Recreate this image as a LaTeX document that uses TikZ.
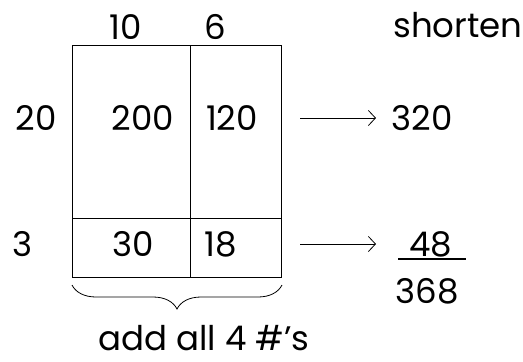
\documentclass[tikz,border=0pt]{standalone}
\usepackage{fontspec}
\setmainfont{Poppins}
\usetikzlibrary{arrows.meta,decorations.pathreplacing}
\begin{document}
\begin{tikzpicture}[x=1pt,y=1pt,
  num/.style={font=\fontsize{34}{36}\selectfont, inner sep=0pt},
  gridline/.style={line width=1pt, black},
  pointer/.style={line width=0.8pt, -{Straight Barb[length=7pt,width=15pt,line width=0.8pt]}}]
\useasboundingbox (0,0) rectangle (523,-362);
% area model grid
\coordinate (tl) at (72,-45);
\coordinate (br) at (281,-277);
\draw[gridline] (tl) rectangle (br);
\draw[gridline] (190,-45) -- (190,-277);
\draw[gridline] (72,-218) -- (281,-218);
% factors
\node[num] (c10) at (126,-27) {10};
\node[num] (c6) at (215,-27) {6};
\node[num] (r20) at (36,-118) {20};
\node[num] (r3) at (23,-244) {3};
% partial products
\node[num] (p200) at (143,-118) {200};
\node[num] (p120) at (232,-118) {120};
\node[num] (p30) at (133,-244) {30};
\node[num] (p18) at (221,-244) {18};
% shortened sums
\node[num] (title) at (458,-25) {shorten};
\node[num] (s320) at (422,-118) {320};
\node[num] (s48) at (431,-244) {48};
\node[num] (s368) at (427,-291) {368};
\coordinate (u1) at (398,-259);
\coordinate (u2) at (466,-259);
\draw[line width=1.3pt] (u1) -- (u2);
\coordinate (a1) at (300,-118);
\coordinate (e1) at (376,-118);
\coordinate (a2) at (300,-244);
\coordinate (e2) at (376,-244);
\draw[pointer] (a1) -- (e1);
\draw[pointer] (a2) -- (e2);
% brace under the grid
\coordinate (b1) at (72,-285);
\coordinate (b2) at (282,-285);
\draw[line width=0.8pt, decorate, decoration={brace, mirror, amplitude=24pt}] (b1) -- (b2);
\node[num] (note) at (204,-338) {add all 4 \#'s};
\end{tikzpicture}
\end{document}
